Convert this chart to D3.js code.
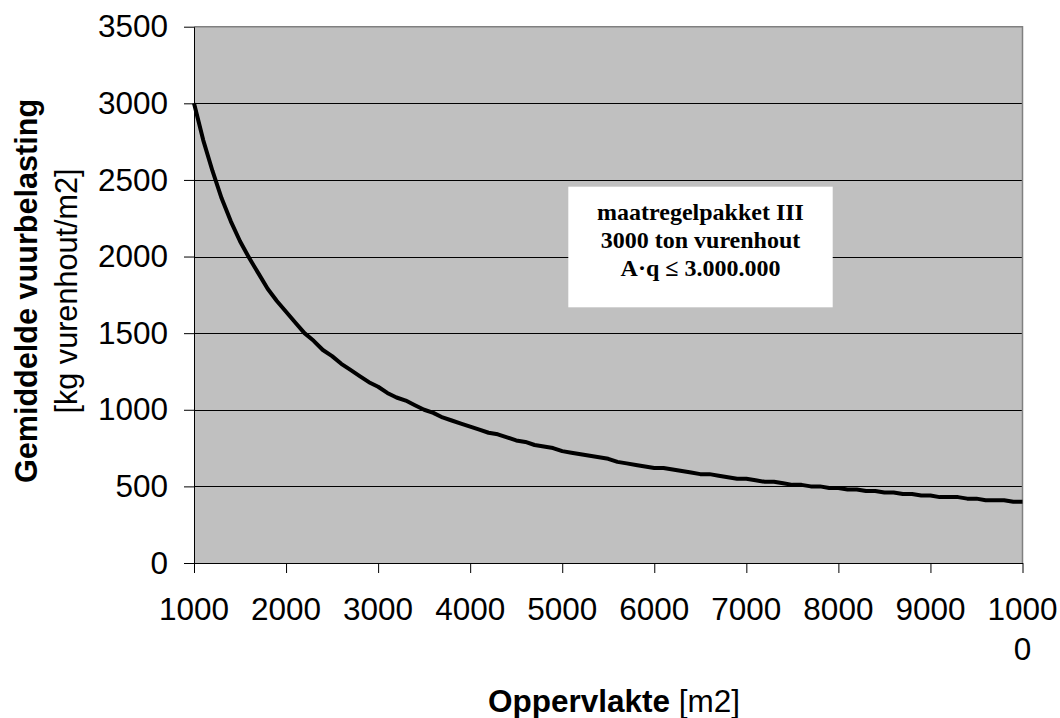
<!DOCTYPE html>
<html>
<head>
<meta charset="utf-8">
<script src="https://cdn.jsdelivr.net/npm/d3@7"></script>
<style>
  html, body { margin: 0; padding: 0; background: #fff; }
  svg { display: block; }
</style>
</head>
<body>
<svg id="chart" width="1060" height="718"></svg>
<script>
// Oppervlakte (m2) and the matching gemiddelde vuurbelasting (kg vurenhout/m2)
const oppervlakte = [
  1000, 1100, 1200, 1300, 1400, 1500, 1600, 1700, 1800, 1900,
  2000, 2100, 2200, 2300, 2400, 2500, 2600, 2700, 2800, 2900,
  3000, 3100, 3200, 3300, 3400, 3500, 3600, 3700, 3800, 3900,
  4000, 4100, 4200, 4300, 4400, 4500, 4600, 4700, 4800, 4900,
  5000, 5100, 5200, 5300, 5400, 5500, 5600, 5700, 5800, 5900,
  6000, 6100, 6200, 6300, 6400, 6500, 6600, 6700, 6800, 6900,
  7000, 7100, 7200, 7300, 7400, 7500, 7600, 7700, 7800, 7900,
  8000, 8100, 8200, 8300, 8400, 8500, 8600, 8700, 8800, 8900,
  9000, 9100, 9200, 9300, 9400, 9500, 9600, 9700, 9800, 9900,
  10000
];
const vuurbelasting = [
  3000, 2760, 2560, 2380, 2230, 2100, 1990, 1890, 1790, 1710,
  1640, 1570, 1500, 1450, 1390, 1350, 1300, 1260, 1220, 1180,
  1150, 1110, 1080, 1060, 1030, 1000, 980, 950, 930, 910,
  890, 870, 850, 840, 820, 800, 790, 770, 760, 750,
  730, 720, 710, 700, 690, 680, 660, 650, 640, 630,
  620, 620, 610, 600, 590, 580, 580, 570, 560, 550,
  550, 540, 530, 530, 520, 510, 510, 500, 500, 490,
  490, 480, 480, 470, 470, 460, 460, 450, 450, 440,
  440, 430, 430, 430, 420, 420, 410, 410, 410, 400,
  400
];
const xTicks = [1000, 2000, 3000, 4000, 5000, 6000, 7000, 8000, 9000, 10000];
const yTicks = [0, 500, 1000, 1500, 2000, 2500, 3000, 3500];
const noteLines = ["maatregelpakket III", "3000 ton vurenhout", "A\u00B7q \u2264 3.000.000"];

const svg = d3.select("#chart");
const plot = { left: 194, right: 1022.5, top: 26.7, bottom: 563 };

const x = d3.scaleLinear().domain([1000, 10000]).range([plot.left, plot.right]);
const y = d3.scaleLinear().domain([0, 3500]).range([plot.bottom, plot.top]);

// plot area background
svg.append("rect")
  .attr("x", plot.left).attr("y", plot.top)
  .attr("width", plot.right - plot.left).attr("height", plot.bottom - plot.top)
  .attr("fill", "#c0c0c0");

// horizontal gridlines
svg.append("g")
  .selectAll("line")
  .data(yTicks.filter(d => d > 0 && d < 3500))
  .join("line")
  .attr("x1", plot.left).attr("x2", plot.right)
  .attr("y1", d => Math.round(y(d)) + 0.5).attr("y2", d => Math.round(y(d)) + 0.5)
  .attr("stroke", "#000").attr("stroke-width", 1);

// grey frame on top and right
svg.append("path")
  .attr("d", `M${plot.left},${plot.top}H${plot.right}V${plot.bottom}`)
  .attr("fill", "none").attr("stroke", "#808080").attr("stroke-width", 1.5);

// y axis
const yAxis = d3.axisLeft(y).tickValues(yTicks).tickFormat(d3.format("d"))
  .tickSize(10).tickSizeOuter(0).tickPadding(16);
const gy = svg.append("g").attr("transform", `translate(${plot.left},0)`).call(yAxis);
gy.select(".domain").attr("stroke", "#000");
gy.selectAll("text")
  .attr("font-family", "Liberation Sans, Arial, sans-serif")
  .attr("font-size", 31.5).attr("fill", "#000");

// x axis
const xAxis = d3.axisBottom(x).tickValues(xTicks).tickSize(10).tickSizeOuter(0).tickFormat(() => "");
const gx = svg.append("g").attr("transform", `translate(0,${plot.bottom})`).call(xAxis);
gx.select(".domain").attr("stroke", "#000");

// x tick labels; the last one wraps onto a second line
const xLabels = svg.append("g")
  .attr("font-family", "Liberation Sans, Arial, sans-serif")
  .attr("font-size", 31.5).attr("fill", "#000").attr("text-anchor", "middle");
xTicks.forEach(t => {
  const s = String(t);
  const lines = s.length > 4 ? [s.slice(0, 4), s.slice(4)] : [s];
  const txt = xLabels.append("text").attr("x", x(t)).attr("y", 620);
  lines.forEach((l, i) => {
    txt.append("tspan").attr("x", x(t)).attr("dy", i === 0 ? 0 : 40).text(l);
  });
});

// curve
const line = d3.line()
  .x((d, i) => x(oppervlakte[i]))
  .y(d => y(d));
svg.append("path")
  .datum(vuurbelasting)
  .attr("d", line)
  .attr("fill", "none")
  .attr("stroke", "#000")
  .attr("stroke-width", 4)
  .attr("stroke-linejoin", "round");

// note box
const box = { x: 568.3, y: 186.7, w: 264.4, h: 120.6 };
svg.append("rect")
  .attr("x", box.x).attr("y", box.y).attr("width", box.w).attr("height", box.h)
  .attr("fill", "#fff");
svg.append("g")
  .attr("font-family", "Liberation Serif, Times New Roman, serif")
  .attr("font-weight", "bold").attr("font-size", 24)
  .attr("text-anchor", "middle").attr("fill", "#000")
  .selectAll("text")
  .data(noteLines)
  .join("text")
  .attr("x", box.x + box.w / 2)
  .attr("y", (d, i) => 220 + i * 27.8)
  .text(d => d);

// y axis title
const yTitle = svg.append("text")
  .attr("transform", "translate(37,291) rotate(-90)")
  .attr("text-anchor", "middle")
  .attr("font-family", "Liberation Sans, Arial, sans-serif")
  .attr("font-size", 30.6).attr("fill", "#000");
yTitle.append("tspan").attr("x", 0).attr("font-weight", "bold").text("Gemiddelde vuurbelasting");
yTitle.append("tspan").attr("x", 0).attr("dy", 40).text("[kg vurenhout/m2]");

// x axis title
const xTitle = svg.append("text")
  .attr("x", 614).attr("y", 712)
  .attr("text-anchor", "middle")
  .attr("font-family", "Liberation Sans, Arial, sans-serif")
  .attr("font-size", 31.5).attr("fill", "#000");
xTitle.append("tspan").attr("font-weight", "bold").text("Oppervlakte");
xTitle.append("tspan").text(" [m2]");
</script>
</body>
</html>
